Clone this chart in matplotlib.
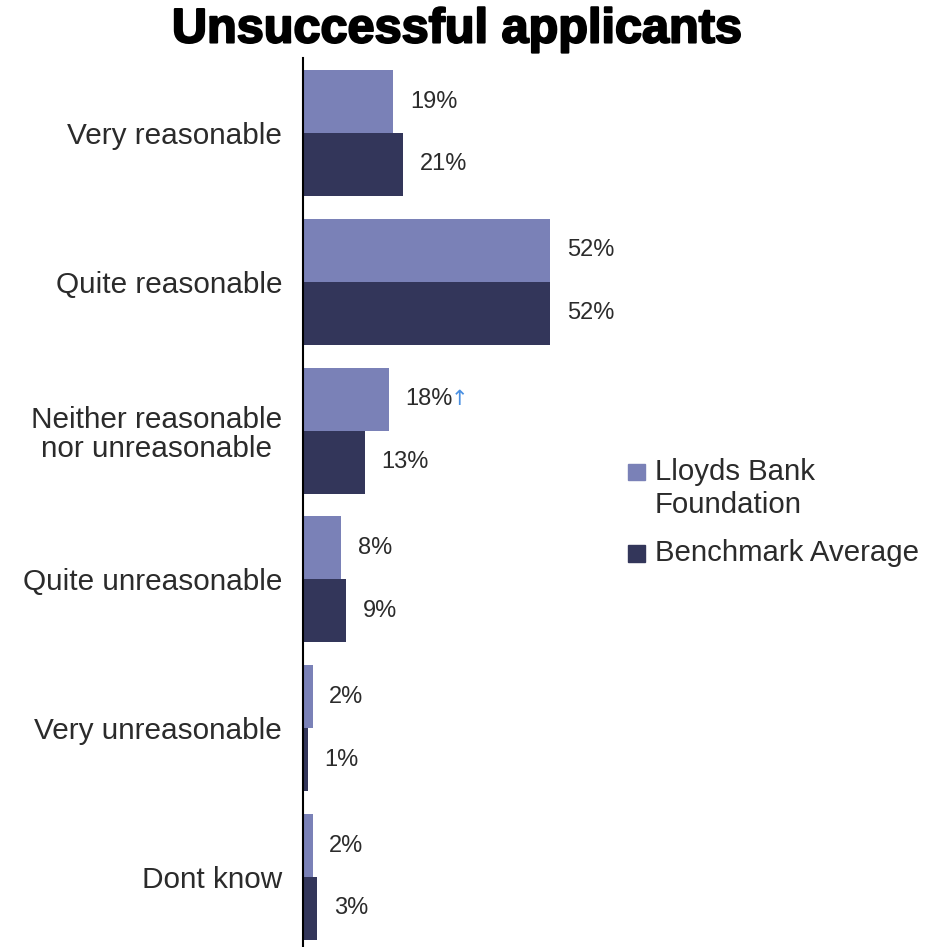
import numpy as np
from matplotlib import pyplot as plt
from matplotlib.patches import Rectangle
import matplotlib.patheffects as pe

plt.rcParams['font.family'] = ['Liberation Sans', 'DejaVu Sans']

# survey answers, top to bottom
categories = ['Very reasonable', 'Quite reasonable', 'Neither reasonable\nnor unreasonable',
              'Quite unreasonable', 'Very unreasonable', 'Dont know']
lloyds = [19, 52, 18, 8, 2, 2]
benchmark = [21, 52, 13, 9, 1, 3]
series_names = ['Lloyds Bank\nFoundation', 'Benchmark Average']
# answers flagged as significantly higher than the benchmark
flag_up = [False, False, True, False, False, False]

light = '#7a81b7'
dark = '#33365a'
text_col = '#2b2b2b'

fig = plt.figure(figsize=(9.5, 9.47), dpi=100)
ax = fig.add_axes([303 / 950, 0.0, 314 / 950, 1 - 58 / 947])

y = np.arange(len(categories))
h = 0.423
ax.barh(y - h / 2, lloyds, height=h, color=light)
ax.barh(y + h / 2, benchmark, height=h, color=dark)

for i in range(len(categories)):
    ax.annotate(f'{lloyds[i]}%', (lloyds[i], y[i] - h / 2), xytext=(12, 0),
                textcoords='offset points', va='center', ha='left',
                fontsize=17, color=text_col)
    if flag_up[i]:
        ax.annotate('\u2191', (lloyds[i], y[i] - h / 2), xytext=(45, 0),
                    textcoords='offset points', va='center', ha='left',
                    fontsize=15, color='#4a90e2', family=['DejaVu Sans'])
    ax.annotate(f'{benchmark[i]}%', (benchmark[i], y[i] + h / 2), xytext=(12, 0),
                textcoords='offset points', va='center', ha='left',
                fontsize=17, color=text_col)

ax.set_xlim(0, 314 / 4.75)
ax.set_ylim(5 + 70 / 148.8, -75 / 148.8)
ax.set_yticks(y)
ax.set_yticklabels(categories, fontsize=21.4, color=text_col, multialignment='center',
                   linespacing=1.05)
ax.tick_params(axis='y', length=0, pad=15)
ax.set_xticks([])
for s in ['top', 'right', 'bottom']:
    ax.spines[s].set_visible(False)
ax.spines['left'].set_linewidth(1.5)
ax.spines['left'].set_color('black')

# legend drawn by hand so the marker sits on the first line of the label
sq = 17
for k, (col, ytop) in enumerate([(light, 472), (dark, 553)]):
    fig.add_artist(Rectangle((628 / 950, 1 - (ytop + sq / 2) / 947), sq / 950, sq / 947,
                             transform=fig.transFigure, color=col))
    fig.text(655 / 950, 1 - ytop / 947, series_names[k].split('\n')[0], fontsize=21.2,
             color=text_col, va='center', ha='left')
fig.text(655 / 950, 1 - 505 / 947, series_names[0].split('\n')[1], fontsize=21.2,
         color=text_col, va='center', ha='left')

fig.text(457 / 950, 1 - 30 / 947, 'Unsuccessful applicants', fontsize=35,
         fontweight='bold', ha='center', va='center', color='black',
         path_effects=[pe.withStroke(linewidth=1.5, foreground='black')])

fig.savefig('out.png', dpi=100)
